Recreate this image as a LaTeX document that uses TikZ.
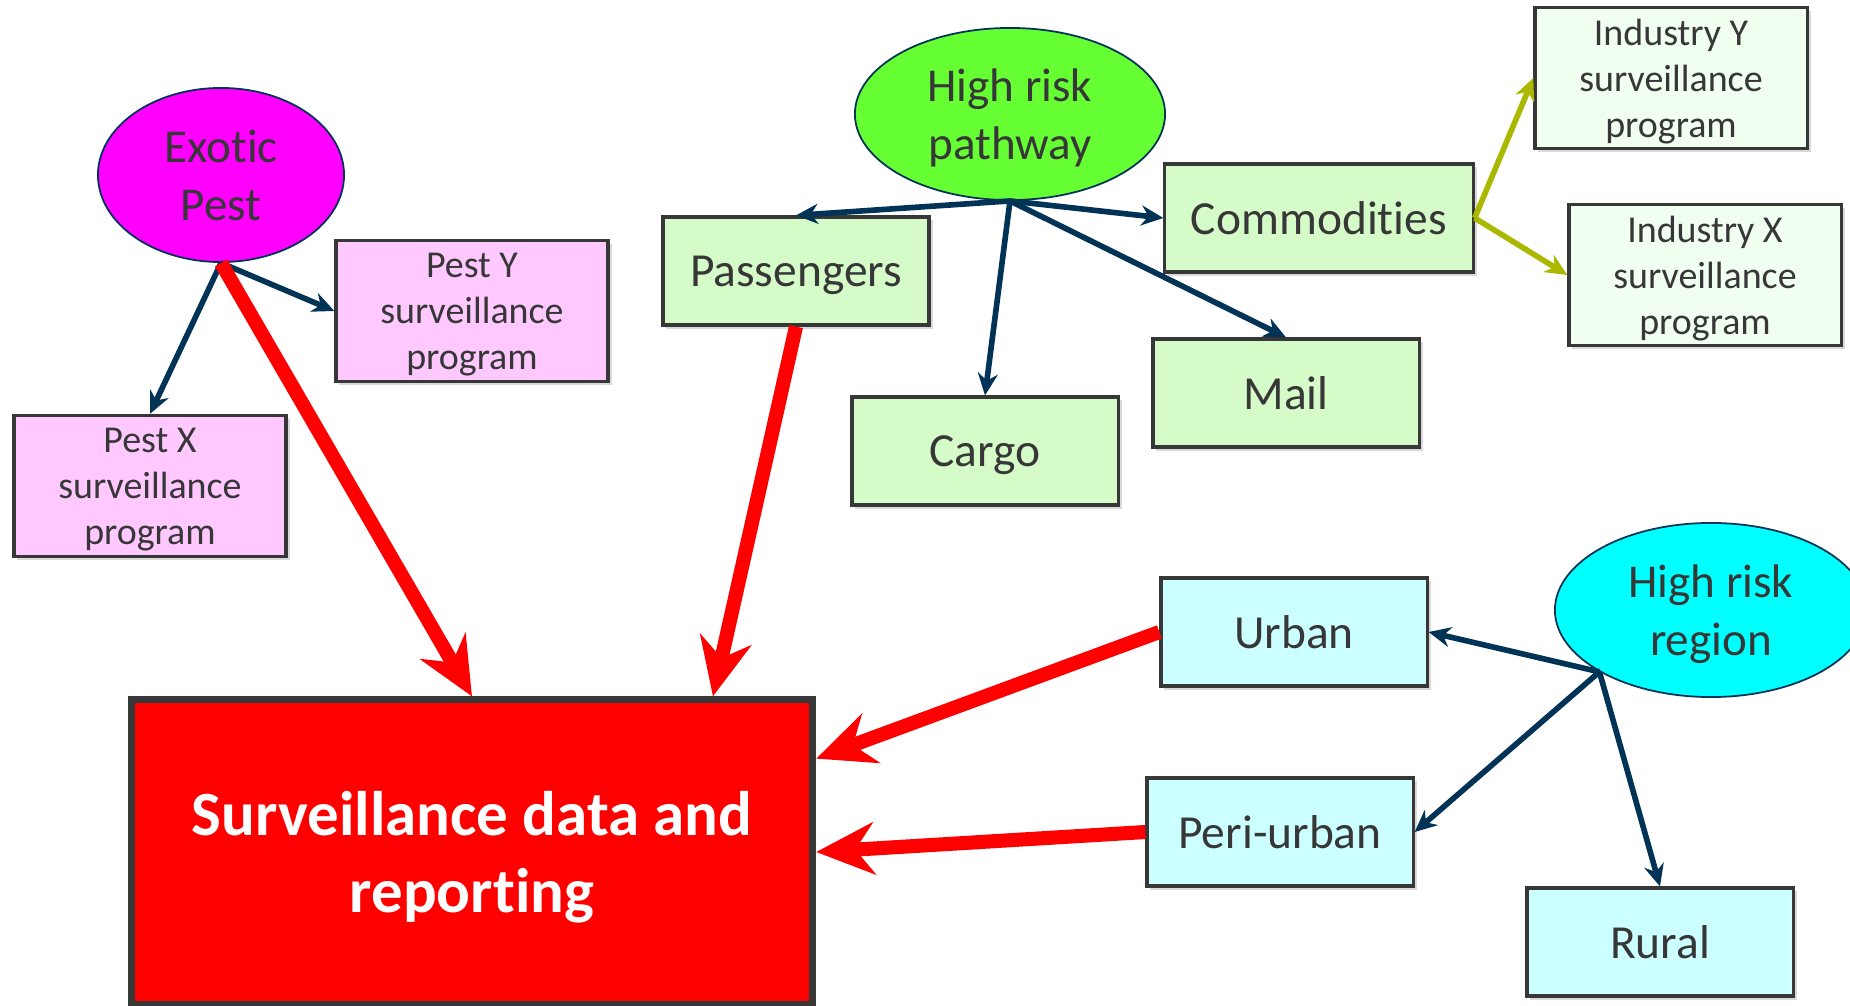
\documentclass[tikz,border=0pt]{standalone}
\usepackage{fontspec}
\setmainfont{Carlito}[Ligatures=NoCommon]
\usetikzlibrary{arrows.meta,shapes.geometric,shadows,calc}

\definecolor{navy}{RGB}{0,51,85}
\definecolor{txtgray}{RGB}{55,55,55}
\definecolor{boxgray}{RGB}{55,55,55}
\definecolor{pestpink}{RGB}{255,200,255}
\definecolor{pestmagenta}{RGB}{255,0,255}
\definecolor{pathgreen}{RGB}{213,252,200}
\definecolor{indgreen}{RGB}{240,255,240}
\definecolor{regioncyan}{RGB}{204,255,255}
\definecolor{regionaqua}{RGB}{0,255,255}
\definecolor{pathlime}{RGB}{102,255,51}
\definecolor{indolive}{RGB}{170,185,0}

\begin{document}
\begin{tikzpicture}[x=0.01cm,y=-0.01cm,
  box/.style={draw=boxgray, line width=0.9pt, text=txtgray, align=center, inner sep=0pt,
    text depth=0pt, drop shadow={shadow xshift=1pt,shadow yshift=-1pt,opacity=0.3}},
  bigbox/.style={box, minimum width=2.66cm, minimum height=1.08cm,
    font=\fontsize{13.5}{16.5}\selectfont},
  smallbox/.style={box, minimum width=2.72cm, minimum height=1.41cm,
    font=\fontsize{10.8}{13.1}\selectfont},
  oval/.style={ellipse, draw=navy, line width=0.5pt, text=txtgray, align=center, inner sep=0pt,
    text depth=0pt, minimum width=3.1cm, minimum height=1.72cm,
    font=\fontsize{13.4}{16.4}\selectfont},
  link/.style={draw=navy, line width=1.6pt, -{Stealth[length=0.22cm,width=0.2cm]}},
  indlink/.style={draw=indolive, line width=1.6pt, -{Stealth[length=0.22cm,width=0.2cm]}},
  feed/.style={draw=red, line width=4pt, -{Stealth[length=0.58cm,width=0.52cm]}}]

\useasboundingbox (0,0) rectangle (1850,1006);

% exotic pest
\node[oval, fill=pestmagenta, minimum width=2.46cm, minimum height=1.74cm] (exotic) at (221,175) {Exotic\\Pest};
\node[smallbox, fill=pestpink] (pesty) at (472,311) {Pest Y\\surveillance\\program};
\node[smallbox, fill=pestpink] (pestx) at (150,486) {Pest X\\surveillance\\program};

% high risk pathway
\node[oval, fill=pathlime] (pathway) at (1010,114) {High risk\\pathway};
\node[bigbox, fill=pathgreen] (pass) at (796,271) {Passengers};
\node[bigbox, fill=pathgreen, minimum width=3.08cm] (comm) at (1319,218) {Commodities};
\node[bigbox, fill=pathgreen] (cargo) at (985,451) {Cargo};
\node[bigbox, fill=pathgreen] (mail) at (1286,393) {Mail};
\node[smallbox, fill=indgreen] (indy) at (1671,78) {Industry Y\\surveillance\\program};
\node[smallbox, fill=indgreen] (indx) at (1705,275) {Industry X\\surveillance\\program};

% high risk region
\node[oval, fill=regionaqua, minimum width=3.12cm, minimum height=1.74cm] (region) at (1711,610) {High risk\\region};
\node[bigbox, fill=regioncyan] (urban) at (1294,632) {Urban};
\node[bigbox, fill=regioncyan] (periurban) at (1280,832) {Peri-urban};
\node[bigbox, fill=regioncyan] (rural) at (1660,942) {Rural};

% reporting
\node[draw=boxgray, line width=2pt, fill=red, text=white, align=center, text depth=0pt,
  minimum width=6.81cm, minimum height=3.04cm,
  font=\bfseries\fontsize{17.9}{21.9}\selectfont] (surv) at (472,852) {Surveillance data and\\reporting};

\draw[link] (exotic.south) -- (pesty.west);
\draw[link] (exotic.south) -- (pestx.north);

\draw[link] (pathway.south) -- (pass.north);
\draw[link] (pathway.south) -- (comm.west);
\draw[link] (pathway.south) -- (cargo.north);
\draw[link] (pathway.south) -- (mail.north);
\draw[indlink] (comm.east) -- (indy.west);
\draw[indlink] (comm.east) -- (indx.west);

\draw[link] (region.209) -- (urban.east);
\draw[link] (region.209) -- (periurban.east);
\draw[link] (region.209) -- (rural.north);

\draw[feed] (exotic.south) -- (surv.north);
\draw[feed] (pass.south) -- ($(surv.north east)!0.3!(surv.north)$);
\draw[feed] (urban.west) -- ($(surv.north east)!0.2!(surv.south east)$);
\draw[feed] (periurban.west) -- (surv.east);

\end{tikzpicture}
\end{document}
